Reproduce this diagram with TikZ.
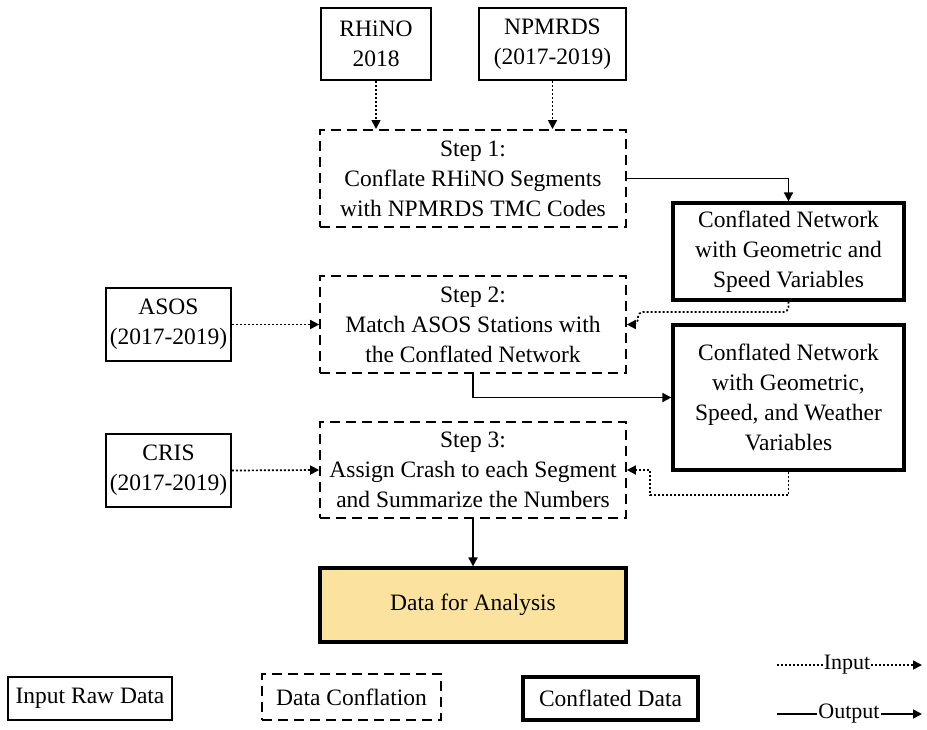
\documentclass[tikz,border=0pt]{standalone}
\usepackage{fontspec}
\setmainfont{Liberation Serif}
\usetikzlibrary{arrows.meta}
\definecolor{datafill}{HTML}{FBE29E}
\begin{document}
\begin{tikzpicture}[x=1pt,y=-1pt,
  every node/.style={font=\fontsize{23.5}{30}\selectfont, align=center, inner sep=0pt, anchor=center},
  rawbox/.style={draw, line width=1.6pt},
  stepbox/.style={draw, line width=1.7pt, dash pattern=on 10pt off 6pt},
  outbox/.style={draw, line width=3.2pt},
  inarrow/.style={line width=1.7pt, dash pattern=on 2pt off 2pt, -{Triangle[width=9pt,length=9pt]}},
  outarrow/.style={line width=1.7pt, -{Triangle[width=9pt,length=9pt]}},
  dotline/.style={line width=1.7pt, dash pattern=on 2pt off 2pt},
  solline/.style={line width=1.7pt}
]
\useasboundingbox (0,0) rectangle (927,729);

% input raw data
\node[rawbox, minimum width=110pt, minimum height=72pt] (rhino) at (376,44) {RHiNO\\2018};
\node[rawbox, minimum width=147pt, minimum height=72pt] (npm) at (552.5,44) {NPMRDS\\(2017-2019)};
\node[rawbox, minimum width=125pt, minimum height=73pt] (asos) at (168.5,324.5) {ASOS\\(2017-2019)};
\node[rawbox, minimum width=125pt, minimum height=73pt] (cris) at (168.5,470.5) {CRIS\\(2017-2019)};

% steps
\node[stepbox, minimum width=306pt, minimum height=97pt] (s1) at (473,178.5) {Step 1:\\Conflate RHiNO Segments\\with NPMRDS TMC Codes};
\node[stepbox, minimum width=306pt, minimum height=97pt] (s2) at (473,324.5) {Step 2:\\Match ASOS Stations with\\the Conflated Network};
\node[stepbox, minimum width=306pt, minimum height=96pt] (s3) at (473,470) {Step 3:\\Assign Crash to each Segment\\and Summarize the Numbers};

% conflated data
\node[outbox, minimum width=231pt, minimum height=97pt] (c1) at (788.5,251.5) {Conflated Network\\with Geometric and\\Speed Variables};
\node[outbox, minimum width=231pt, minimum height=145pt] (c2) at (788.5,397.5) {Conflated Network\\with Geometric,\\Speed, and Weather\\Variables};
\node[outbox, fill=datafill, minimum width=306pt, minimum height=74pt] (data) at (473,605) {Data for Analysis};

% connectors
\draw[inarrow] (rhino.south) -- (376,129);
\draw[inarrow] (npm.south) -- (552.5,129);
\draw[outarrow] (s1.east) -| (c1.north);
\coordinate (k1) at (638,312);
\draw[inarrow, rounded corners=5pt] (c1.south) |- (k1) |- (s2.east);
\draw[inarrow] (asos.east) -- (s2.west);
\draw[outarrow] (s2.south) |- (c2.west);
\coordinate (k2) at (650,495);
\draw[inarrow] (c2.south) |- (k2) |- (s3.east);
\draw[inarrow] (cris.east) -- (s3.west);
\draw[outarrow] (s3.south) -- (data.north);

% legend
\node[rawbox, minimum width=164pt, minimum height=43pt] (l1) at (90,698.5) {Input Raw Data};
\node[stepbox, minimum width=179pt, minimum height=46pt] (l2) at (351.5,697) {Data Conflation};
\node[outbox, minimum width=175pt, minimum height=43pt] (l3) at (610.5,698.5) {Conflated Data};

\coordinate (ia) at (777,665);
\coordinate (ib) at (922,665);
\node[font=\fontsize{22}{26}\selectfont] (il) at (847,665) {Input};
\draw[dotline] (ia) -- ([xshift=-1pt]il.west);
\draw[inarrow] ([xshift=1pt]il.east) -- (ib);

\coordinate (oa) at (777,714);
\coordinate (ob) at (922,714);
\node[font=\fontsize{22}{26}\selectfont] (ol) at (849,714) {Output};
\draw[solline] (oa) -- ([xshift=-1pt]ol.west);
\draw[outarrow] ([xshift=1pt]ol.east) -- (ob);
\end{tikzpicture}
\end{document}
